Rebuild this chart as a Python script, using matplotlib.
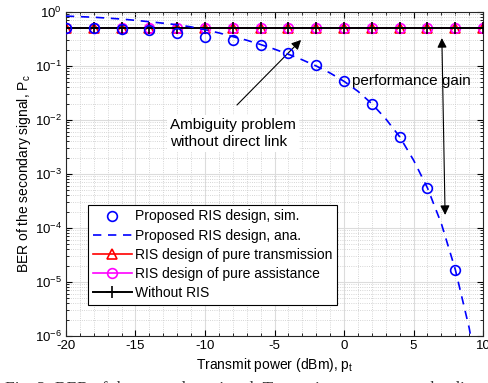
import matplotlib.pyplot as plt
import numpy as np

plt.rcParams['font.family'] = ['Liberation Sans', 'DejaVu Sans']
plt.rcParams['xtick.direction'] = 'in'
plt.rcParams['ytick.direction'] = 'in'
plt.rcParams['axes.unicode_minus'] = False
plt.rcParams['mathtext.fontset'] = 'custom'
plt.rcParams['mathtext.rm'] = 'Liberation Sans'
plt.rcParams['mathtext.it'] = 'Liberation Sans'

# simulation points, every 2 dB
pt_sim = [-20, -18, -16, -14, -12, -10, -8, -6, -4, -2, 0, 2, 4, 6, 8]
ber_sim = [0.50, 0.50, 0.49, 0.47, 0.41, 0.35, 0.30, 0.245, 0.172, 0.104,
           0.053, 0.020, 0.0048, 5.5e-4, 1.65e-5]

# analytical curve, every 1 dB
pt_ana = [-20, -19, -18, -17, -16, -15, -14, -13, -12, -11, -10, -9, -8, -7, -6,
          -5, -4, -3, -2, -1, 0, 1, 2, 3, 4, 5, 6, 7, 8, 9, 10]
ber_ana = [0.84, 0.82, 0.80, 0.77, 0.74, 0.70, 0.66, 0.62, 0.58, 0.53, 0.47,
           0.41, 0.35, 0.30, 0.25, 0.205, 0.165, 0.13, 0.10, 0.074, 0.052,
           0.034, 0.020, 0.0105, 0.0049, 0.0018, 5.5e-4, 1.2e-4, 1.7e-5,
           1.4e-6, 5e-8]

# baselines (flat)
pt_base = [-20, -18, -16, -14, -12, -10, -8, -6, -4, -2, 0, 2, 4, 6, 8, 10]
ber_trans = [0.5] * 16
ber_assist = [0.5] * 16
ber_noris = [0.5] * 16

fig = plt.figure(figsize=(4.88, 3.83), dpi=100)
ax = fig.add_axes([0.135, 0.1227, 0.855, 0.846])

ax.semilogy(pt_sim, ber_sim, 'o', color='blue', mfc='none', ms=7, mew=1.2,
            label='Proposed RIS design, sim.', zorder=6)
ax.semilogy(pt_ana, ber_ana, '--', color='blue', lw=1.2, dashes=(5, 4),
            label='Proposed RIS design, ana.', zorder=5)
ax.semilogy(pt_base, ber_trans, '-^', color='red', mfc='none', ms=7, mew=1.2,
            lw=1.2, label='RIS design of pure transmission', zorder=3)
ax.semilogy(pt_base, ber_assist, '-o', color='magenta', mfc='none', ms=7,
            mew=1.2, lw=1.2, label='RIS design of pure assistance', zorder=3)
ax.semilogy(pt_base, ber_noris, '-+', color='black', ms=8, mew=1.2, lw=1.4,
            label='Without RIS', zorder=4)

ax.set_xlim(-20, 10)
ax.set_ylim(1e-6, 1)
ax.set_xticks(np.arange(-20, 11, 5))
ax.set_xticks(np.arange(-20, 11, 1), minor=True)
ax.tick_params(which='both', top=True, right=True, labelsize=9.5, pad=3)
ax.tick_params(which='major', length=4)
ax.tick_params(which='minor', length=2)
ax.grid(which='major', color='#dcdcdc', lw=0.8)
ax.grid(which='minor', color='#c8c8c8', ls=':', lw=0.6)
ax.set_axisbelow(True)
for s in ax.spines.values():
    s.set_color('#262626')

ax.set_xlabel('Transmit power (dBm), p$_\\mathrm{t}$', fontsize=10, labelpad=3)
ax.set_ylabel('BER of the secondary signal, P$_\\mathrm{c}$', fontsize=10,
              labelpad=1)

leg = ax.legend(loc='lower left', bbox_to_anchor=(0.053, 0.096), fontsize=10,
                fancybox=False, edgecolor='black', framealpha=1,
                handlelength=2.8, handletextpad=0.2, labelspacing=0.37,
                borderpad=0.35, borderaxespad=0)
leg.get_frame().set_linewidth(0.8)

# annotations
ax.annotate('', xy=(-2.95, 0.33), xytext=(-7.84, 0.0174),
            arrowprops=dict(arrowstyle='-|>', color='black', lw=0.8,
                            mutation_scale=14))
ax.text(-12.5, 0.0057, 'Ambiguity problem\nwithout direct link', fontsize=11,
        va='center', ha='left', linespacing=1.3,
        bbox=dict(facecolor='white', edgecolor='none', pad=2))
ax.annotate('', xy=(7.03, 0.37), xytext=(7.27, 1.55e-4),
            arrowprops=dict(arrowstyle='<|-|>', color='black', lw=0.8,
                            mutation_scale=14))
ax.text(0.6, 0.053, 'performance gain', fontsize=11, va='center', ha='left')

# figure caption, runs off the bottom edge
fig.text(0.01, -0.015, 'Fig. 2: BER of the secondary signal. Transmit power versus the direct link.',
         fontsize=12.5, family='Liberation Serif', va='center', color='#333333')

fig.savefig('out.png', dpi=100)
